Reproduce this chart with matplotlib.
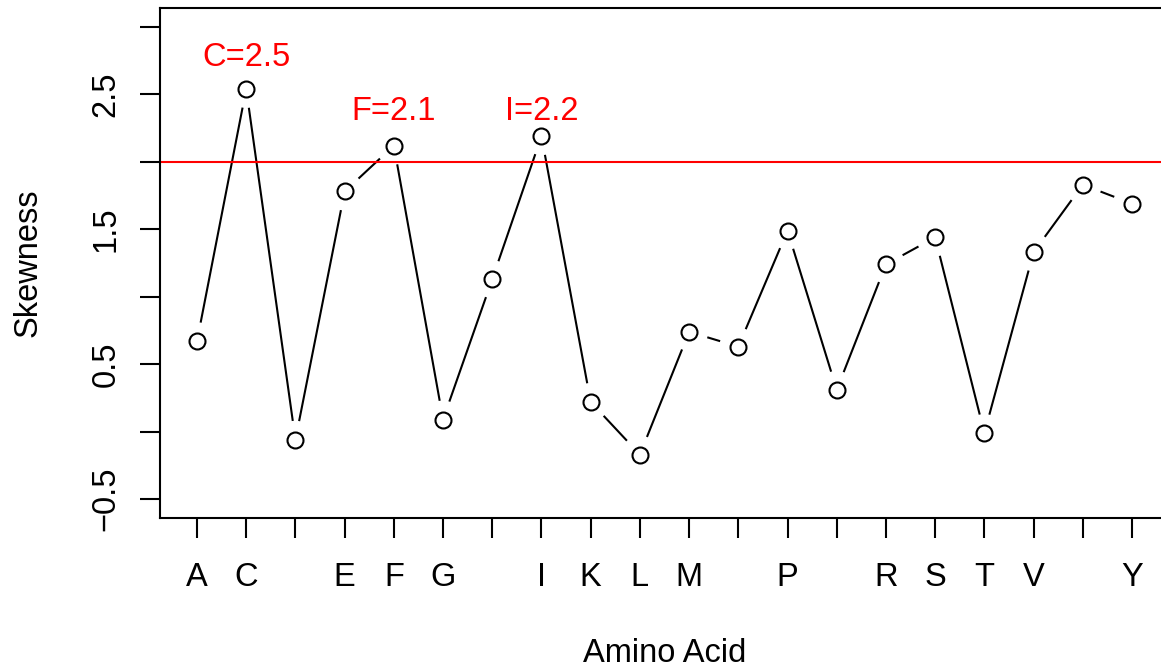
import matplotlib
matplotlib.use("Agg")
import matplotlib.pyplot as plt
import numpy as np

plt.rcParams['font.family'] = ['Liberation Sans', 'DejaVu Sans']

# skewness per amino acid
amino = ['A', 'C', 'D', 'E', 'F', 'G', 'H', 'I', 'K', 'L',
         'M', 'N', 'P', 'Q', 'R', 'S', 'T', 'V', 'W', 'Y']
skew = [0.67, 2.54, -0.06, 1.78, 2.12, 0.09, 1.13, 2.19, 0.22, -0.17,
        0.74, 0.63, 1.49, 0.31, 1.24, 1.44, -0.01, 1.33, 1.83, 1.69]
# labels that fit on the x axis
shown = ['A', 'C', 'E', 'F', 'G', 'I', 'K', 'L', 'M', 'P', 'R', 'S', 'T', 'V', 'Y']
yticks = [-0.5, 0, 0.5, 1, 1.5, 2, 2.5, 3]
ylabels = ['\u22120.5', '', '0.5', '', '1.5', '', '2.5', '']
cutoff = 2.0

W, H = 1161, 668
fs = 23.5
fig = plt.figure(figsize=(W / 100, H / 100), dpi=100)
ax = fig.add_axes([159.6 / W, 150 / H, (1169.4 - 159.6) / W, 510 / H])

x = np.arange(1, len(amino) + 1)
y = np.array(skew)
ax.set_xlim(0.24, 20.76)
ax.set_ylim(-0.64, 3.14)

# lines between points with a gap around each marker (like type="b")
gap = 19
pts = ax.transData.transform(np.column_stack([x, y]))
inv = ax.transData.inverted()
for p0, p1 in zip(pts[:-1], pts[1:]):
    d = p1 - p0
    n = np.hypot(*d)
    if n <= 2 * gap:
        continue
    u = d / n
    a = inv.transform(p0 + u * gap)
    b = inv.transform(p1 - u * gap)
    ax.plot([a[0], b[0]], [a[1], b[1]], color='black', lw=1.5,
            solid_capstyle='butt')

ax.plot(x, y, 'o', mfc='white', mec='black', mew=1.5, ms=11.5, ls='none')
ax.axhline(cutoff, color='red', lw=1.5)

# label the peaks above the cutoff, 0.3 above the truncated value
for xi, aa, v in zip(x, amino, skew):
    if v > cutoff:
        ax.text(xi, np.floor(v * 10) / 10 + 0.3, f'{aa}={v:.1f}',
                ha='center', va='center_baseline', color='red', fontsize=fs)

ax.set_xticks(x)
ax.set_xticklabels([a if a in shown else '' for a in amino], fontsize=fs)
ax.set_yticks(yticks)
ax.set_yticklabels(ylabels, fontsize=fs, rotation=90, va='center')
ax.tick_params(length=14.4, width=1.5)
ax.tick_params(axis='x', pad=17)
ax.tick_params(axis='y', pad=13)
for s in ax.spines.values():
    s.set_linewidth(1.5)

ax.set_xlabel('Amino Acid', fontsize=fs, labelpad=33)
ax.set_ylabel('Skewness', fontsize=fs, labelpad=34)

fig.savefig('out.png', dpi=100)
